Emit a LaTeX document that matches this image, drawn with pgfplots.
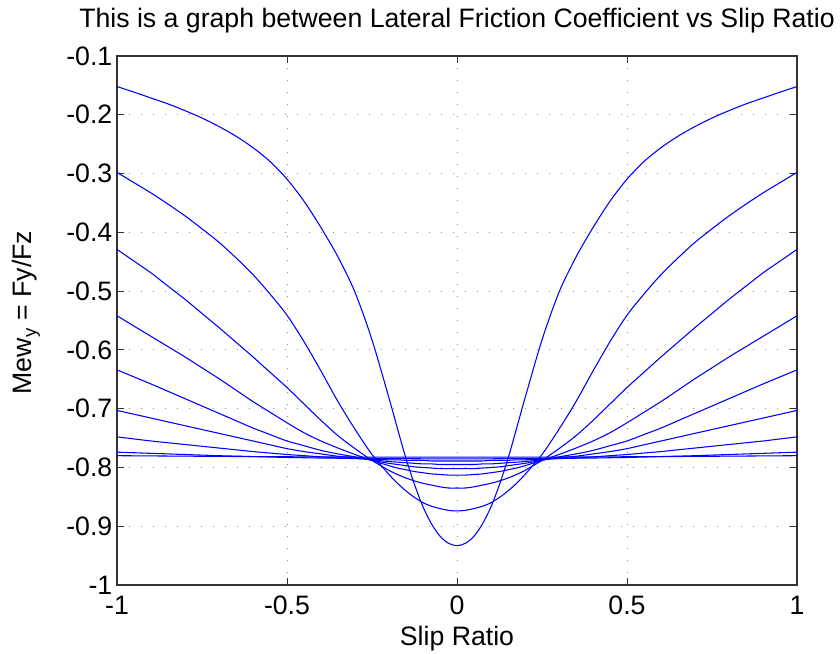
\documentclass[border=0pt]{standalone}
\usepackage{pgfplots}
\pgfplotsset{compat=1.18}
\usepackage{pgfplotstable}
\usepackage{fontspec}
\setmainfont{Liberation Sans}

\pgfplotstableread{
x      y1      y2      y3      y4      y5      y6      y7      y8      y9
-1     -0.152  -0.298  -0.429  -0.542  -0.634  -0.703  -0.748  -0.7740 -0.7800
-0.95  -0.1615 -0.3155 -0.449  -0.5595 -0.646  -0.7095 -0.7515 -0.7750 -0.7802
-0.9   -0.1715 -0.333  -0.469  -0.577  -0.658  -0.716  -0.755  -0.7760 -0.7804
-0.85  -0.1815 -0.352  -0.4915 -0.5945 -0.6705 -0.7225 -0.758  -0.7770 -0.7806
-0.8   -0.193  -0.372  -0.514  -0.612  -0.683  -0.729  -0.761  -0.7780 -0.7808
-0.75  -0.2055 -0.394  -0.538  -0.6305 -0.6955 -0.7355 -0.764  -0.7790 -0.7810
-0.7   -0.220  -0.417  -0.562  -0.649  -0.708  -0.742  -0.767  -0.7800 -0.7812
-0.65  -0.2365 -0.4435 -0.587  -0.6685 -0.7205 -0.7485 -0.770  -0.7808 -0.7814
-0.6   -0.256  -0.472  -0.612  -0.688  -0.733  -0.755  -0.773  -0.7815 -0.7815
-0.55  -0.2795 -0.505  -0.638  -0.706  -0.744  -0.7615 -0.7755 -0.7823 -0.7817
-0.5   -0.3095 -0.541  -0.664  -0.724  -0.755  -0.768  -0.778  -0.7830 -0.7818
-0.45  -0.347  -0.586  -0.692  -0.741  -0.763  -0.773  -0.780  -0.7835 -0.7820
-0.4   -0.392  -0.636  -0.720  -0.755  -0.771  -0.777  -0.782  -0.7840 -0.7821
-0.35  -0.442  -0.688  -0.746  -0.767  -0.777  -0.781  -0.784  -0.7843 -0.7822
-0.3   -0.502  -0.735  -0.768  -0.778  -0.782  -0.784  -0.785  -0.7846 -0.7823
-0.25  -0.583  -0.778  -0.788  -0.788  -0.788  -0.787  -0.786  -0.7848 -0.7824
-0.2   -0.682  -0.812  -0.805  -0.797  -0.793  -0.790  -0.787  -0.7850 -0.7825
-0.175 -0.734  -0.827  -0.812  -0.801  -0.795  -0.791  -0.787  -0.7850 -0.7825
-0.15  -0.785  -0.840  -0.818  -0.804  -0.797  -0.792  -0.788  -0.7851 -0.7826
-0.125 -0.829  -0.851  -0.823  -0.807  -0.799  -0.793  -0.788  -0.7852 -0.7826
-0.1   -0.867  -0.860  -0.827  -0.809  -0.800  -0.794  -0.788  -0.7853 -0.7826
-0.075 -0.896  -0.866  -0.830  -0.811  -0.801  -0.794  -0.789  -0.7854 -0.7826
-0.05  -0.917  -0.870  -0.833  -0.812  -0.802  -0.795  -0.789  -0.7855 -0.7826
-0.025 -0.929  -0.873  -0.835  -0.813  -0.802  -0.795  -0.789  -0.7855 -0.7826
0      -0.933  -0.874  -0.835  -0.813  -0.802  -0.795  -0.789  -0.7855 -0.7826
0.025  -0.929  -0.873  -0.835  -0.813  -0.802  -0.795  -0.789  -0.7855 -0.7826
0.05   -0.917  -0.870  -0.833  -0.812  -0.802  -0.795  -0.789  -0.7855 -0.7826
0.075  -0.896  -0.866  -0.830  -0.811  -0.801  -0.794  -0.789  -0.7854 -0.7826
0.1    -0.867  -0.860  -0.827  -0.809  -0.800  -0.794  -0.788  -0.7853 -0.7826
0.125  -0.829  -0.851  -0.823  -0.807  -0.799  -0.793  -0.788  -0.7852 -0.7826
0.15   -0.785  -0.840  -0.818  -0.804  -0.797  -0.792  -0.788  -0.7851 -0.7826
0.175  -0.734  -0.827  -0.812  -0.801  -0.795  -0.791  -0.787  -0.7850 -0.7825
0.2    -0.682  -0.812  -0.805  -0.797  -0.793  -0.790  -0.787  -0.7850 -0.7825
0.25   -0.583  -0.778  -0.788  -0.788  -0.788  -0.787  -0.786  -0.7848 -0.7824
0.3    -0.502  -0.735  -0.768  -0.778  -0.782  -0.784  -0.785  -0.7846 -0.7823
0.35   -0.442  -0.688  -0.746  -0.767  -0.777  -0.781  -0.784  -0.7843 -0.7822
0.4    -0.392  -0.636  -0.720  -0.755  -0.771  -0.777  -0.782  -0.7840 -0.7821
0.45   -0.347  -0.586  -0.692  -0.741  -0.763  -0.773  -0.780  -0.7835 -0.7820
0.5    -0.3095 -0.541  -0.664  -0.724  -0.755  -0.768  -0.778  -0.7830 -0.7818
0.55   -0.2795 -0.505  -0.638  -0.706  -0.744  -0.7615 -0.7755 -0.7823 -0.7817
0.6    -0.256  -0.472  -0.612  -0.688  -0.733  -0.755  -0.773  -0.7815 -0.7815
0.65   -0.2365 -0.4435 -0.587  -0.6685 -0.7205 -0.7485 -0.770  -0.7808 -0.7814
0.7    -0.220  -0.417  -0.562  -0.649  -0.708  -0.742  -0.767  -0.7800 -0.7812
0.75   -0.2055 -0.394  -0.538  -0.6305 -0.6955 -0.7355 -0.764  -0.7790 -0.7810
0.8    -0.193  -0.372  -0.514  -0.612  -0.683  -0.729  -0.761  -0.7780 -0.7808
0.85   -0.1815 -0.352  -0.4915 -0.5945 -0.6705 -0.7225 -0.758  -0.7770 -0.7806
0.9    -0.1715 -0.333  -0.469  -0.577  -0.658  -0.716  -0.755  -0.7760 -0.7804
0.95   -0.1615 -0.3155 -0.449  -0.5595 -0.646  -0.7095 -0.7515 -0.7750 -0.7802
1      -0.152  -0.298  -0.429  -0.542  -0.634  -0.703  -0.748  -0.7740 -0.7800
}\frictiondata

\begin{document}
\begin{tikzpicture}
\begin{axis}[
  name=ax,
  scale only axis,
  width=510pt, height=396.75pt,
  xmin=-1, xmax=1, ymin=-1, ymax=-0.1,
  xtick={-1,-0.5,0,0.5,1},
  xticklabels={-1,-0.5,0,0.5,1},
  ytick={-1,-0.9,-0.8,-0.7,-0.6,-0.5,-0.4,-0.3,-0.2,-0.1},
  yticklabels={-1,-0.9,-0.8,-0.7,-0.6,-0.5,-0.4,-0.3,-0.2,-0.1},
  tick label style={font=\fontsize{20}{24}\selectfont},
  xticklabel style={anchor=base, yshift=-22.5pt},
  label style={font=\fontsize{20}{24}\selectfont},
  title style={font=\fontsize{20}{24}\selectfont, at={(axis description cs:0.5,1.0378)}, anchor=base},
  xlabel style={at={(axis description cs:0.5,-0.1153)}, anchor=base},
  ylabel style={at={(axis description cs:-0.125,0.515)}, anchor=base},
  title={This is a graph between Lateral Friction Coefficient vs Slip Ratio},
  xlabel={Slip Ratio},
  ylabel={Mew\textsubscript{y} = Fy/Fz},
  grid=major,
  grid style={black!45, line width=0.7pt, dash pattern=on 0.8pt off 8.2pt},
  major tick length=5pt,
  tick align=inside,
  tick style={black!80, line width=0.7pt},
  axis line style={black!80, line width=0.8pt},
]
\addplot[blue, line width=0.8pt, smooth, tension=0.5] table[x=x, y=y1]{\frictiondata};
\addplot[blue, line width=0.8pt, smooth, tension=0.5] table[x=x, y=y2]{\frictiondata};
\addplot[blue, line width=0.8pt, smooth, tension=0.5] table[x=x, y=y3]{\frictiondata};
\addplot[blue, line width=0.8pt, smooth, tension=0.5] table[x=x, y=y4]{\frictiondata};
\addplot[blue, line width=0.8pt, smooth, tension=0.5] table[x=x, y=y5]{\frictiondata};
\addplot[blue, line width=0.8pt, smooth, tension=0.5] table[x=x, y=y6]{\frictiondata};
\addplot[blue, line width=0.8pt, smooth, tension=0.5] table[x=x, y=y7]{\frictiondata};
\addplot[blue, line width=0.8pt, smooth, tension=0.5] table[x=x, y=y8]{\frictiondata};
\addplot[blue, line width=0.8pt, smooth, tension=0.5] table[x=x, y=y9]{\frictiondata};
\end{axis}
\pgfresetboundingbox
\useasboundingbox ([shift={(-87.75pt,-51.75pt)}]ax.south west) rectangle ([shift={(32.25pt,42pt)}]ax.north east);
\end{tikzpicture}
\end{document}
